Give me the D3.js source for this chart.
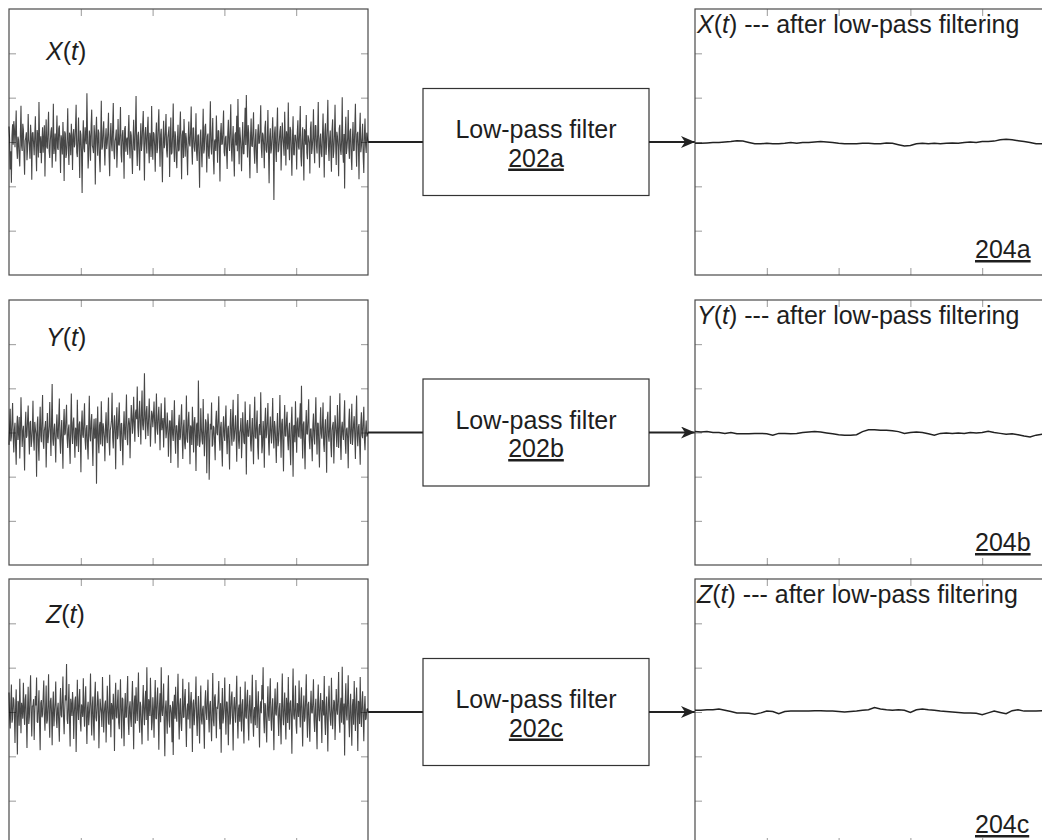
<!DOCTYPE html>
<meta charset="utf-8">
<style>
body { margin: 0; background: #fff; }
svg { display: block; font-family: "Liberation Sans", Arial, sans-serif; }
.frame { fill: none; stroke: #4a4a4a; stroke-width: 1.2; }
.tick line { stroke: #999; stroke-width: 1; }
.noise { fill: none; stroke: #000; stroke-opacity: 0.72; stroke-width: 1.1; stroke-linejoin: bevel; }
.smooth { fill: none; stroke: #222; stroke-width: 1.5; }
.box { fill: #fff; stroke: #333; stroke-width: 1.2; }
.link { stroke: #222; stroke-width: 2; }
text { fill: #1e1e1e; font-size: 25px; }
</style>
<svg width="1042" height="840"></svg>
<script src="https://cdn.jsdelivr.net/npm/d3@7"></script>
<script>

// channels, box labels, ticks
var signalNames = ["X", "Y", "Z"];
var filterLabels = ["202a", "202b", "202c"];
var outputLabels = ["204a", "204b", "204c"];
var timeTicks = [1, 2, 3, 4];
var levelTicks = [-200, -100, 0, 100, 200];

// raw accelerometer samples (100 = one tick step)
var xRaw = [
  35, 8, -62, -21, -92, 14, 40, -6, 47, 30, -12, 25, 71, -15, -38, 12, 5, -33, -55, 18, 82, -9, -20, 41, 28, -26, -74, 3, 10, 22, -41, -17, 63, 5, -7, -38, 39, 11, -85, 20,
  22, -4, -30, 16, 58, -19, -66, 27, 14, -35, 90, 9, -25, 13, -48, -2, 33, -24, 6, 38, -78, 7, 51, -11, -15, 29, 68, -20, -36, 4, 24, 33, -58, -8, 86, -27, -9, 19, -44, 6,
  60, -13, -18, 31, 37, -7, -70, 15, 3, -28, 45, 2, -88, 24, 19, -36, -27, 10, 76, -16, -52, 21, 12, -30, 41, 8, -63, 17, 29, -12, -5, 35, 84, -23, -34, 6, 55, -9, -81, 26,
  16, -22, -115, 4, 49, -14, -23, 33, 8, -5, 110, 18, -60, -29, 26, 11, -42, 37, 73, -8, -14, -25, 38, 14, -96, 20, 57, -3, -31, 28, 20, -39, -68, 9, 93, -17, -11, 23, 47, -10,
  -53, 7, 31, -16, -2, 25, 66, -31, -77, 12, 43, -4, -21, 34, 88, -19, -39, 2, 11, 28, -58, -13, 52, -6, -8, 21, 79, -27, -46, 15, 27, -8, -83, 30, 36, -22, 4, 10, -29, 19,
  61, -11, -37, 24, 15, -30, -72, 5, 50, -17, -19, 32, 104, -9, -54, 14, 23, -26, -64, 3, 42, -20, -3, 36, 70, -7, -87, 18, 34, -2, -26, 29, 57, -15, -48, 21, 9, -34, 81, -6,
  -40, 22, 18, -9, -67, 13, 44, -25, -13, 38, 74, -1, -56, 16, 30, -33, -91, 6, 48, -14, -6, 27, 63, -19, -35, 10, 21, 35, -79, -4, 55, -28, -24, 17, 87, -12, -45, 24, 13, -37,
  -59, 3, 39, -21, -17, 29, 69, -8, -84, 15, 26, -36, 52, 11, -33, 20, 7, -27, -75, 9, 46, -3, -10, 25, 80, -16, -51, 31, 32, -11, -22, 6, 65, -24, -43, 14, 17, -32, -103, 12,
  28, -18, -57, 8, 75, -26, -16, 34, 41, -5, -69, 13, 19, -31, -38, 22, 92, -10, -28, 17, 54, -37, -73, 2, 6, -20, 60, 7, -47, 26, 25, -14, -89, 19, 43, -6, -4, 30, 71, -23,
  -32, 9, 14, -24, -61, 18, 50, -3, -20, 27, 85, -12, -44, 5, 36, -29, -78, 16, 22, -8, 59, -21, 97, 10, -50, 33, 12, -15, -66, 4, 45, -26, -27, 20, 77, -7, 106, 14, -35, 38,
  20, -30, -82, 12, 53, -8, -11, 25, 67, -19, -49, 6, 29, -35, -70, 17, 40, -4, -1, 28, 83, -13, -36, 21, 16, -9, -59, 32, 48, -18, -24, 3, 72, -22, -93, 11, 31, -26, -15, 15,
  56, -7, -131, 19, 35, -14, -45, 30, 78, -23, -19, 2, 24, 36, -64, -10, 44, 13, -8, -31, 68, 8, -53, 24, 11, -17, 89, -5, -41, 34, 27, -20, -76, 9, 58, -28, -30, 16, 15, -2,
  -62, 21, 49, -11, -17, 26, 81, -33, -55, 4, 33, -18, -87, 29, 22, -6, 61, -24, -39, 15, 8, -2, -71, 31, 46, -27, -13, 10, 74, -15, -48, 37, 37, -8, -26, 19, 90, -12, -58, 7,
  19, -25, -34, 12, 64, -3, -80, 20, 42, -29, -6, 35, 95, -13, -43, 8, 26, -19, -67, 27, 51, -36, -21, 14, 84, -4, -52, 23, 13, -11, -77, 30, 39, -16, -29, 5, 101, -22, -47, 18,
  -105, 16, 57, -27, -12, 9, 72, -14, -38, 24, 30, -32, -63, 7, 45, -20, -19, 33, 86, -5, -56, 18, 23, -10, -84, 26, 66, -23, -9, 11, 41, -34, -70, 15, 53, -7, -25, 21, 10, 0
];
var yRaw = [
  -28, 11, 54, -20, -10, 27, 67, -9, -45, 6, 22, -31, -73, 14, 38, -17, 3, 35, -59, -4, 80, 19, -33, 2, 15, -26, -86, 13, 47, -12, -7, 28, 61, -6, -50, 22, 26, -33, -18, 8,
  72, -15, -41, 24, 9, -3, -100, 17, 36, -28, -64, 10, 58, -7, -22, 31, 85, -19, -37, 5, 12, 26, -79, -11, 44, -24, -5, 16, 69, -2, -53, 29, 110, -14, -30, 7, 20, -21, -68, 12,
  41, -9, -15, 30, 77, -18, -48, 4, 28, -25, -82, 19, 53, -6, -2, 33, 63, -13, -35, 8, 18, -29, -71, 15, 88, -3, -26, 22, 34, -16, -57, 11, 6, -31, 74, 2, -44, 18, 25, -10,
  -90, 20, 50, -5, -12, 27, 66, -17, -39, 9, 17, -30, -61, 13, 83, -8, -20, 25, 42, -22, -76, 6, 31, -14, -9, 32, -116, 3, 59, -19, -47, 16, 24, -27, 71, 10, -31, 21, 8, -12,
  -65, 14, 46, -7, -24, 31, 79, -20, -52, 5, 14, 28, 90, -12, -36, 18, 39, -3, -83, 24, 57, -15, -6, 35, 68, -8, -42, 20, 21, -26, -74, 9, 48, -2, -17, 30, 86, -11, -29, 16,
  33, 20, -58, 8, 62, 37, -3, 26, 81, 15, -21, 44, 52, 30, 104, 12, -10, 40, 72, 21, -27, 48, 95, 18, 5, 39, 134, 25, -15, 46, 60, 14, -8, 35, 77, 29, -32, 10, 49, 42,
  12, 38, 70, 22, -25, 31, 88, 9, -5, 36, 58, 17, -40, 27, 66, 5, 18, 33, -34, 14, 79, 24, -13, 2, 45, 19, -55, -8, 27, 26, -69, 11, 51, -4, -19, 20, 73, -12, -48, 15,
  16, -6, -80, 21, 40, -17, -11, 30, 64, -9, -60, 12, 29, -25, -38, 4, 84, -14, -23, 27, 47, -3, -72, 16, 10, -28, 58, 8, -45, 23, 35, -11, -87, 18, 22, -30, 118, 6, -33, -19,
  55, 10, -16, -27, 76, 4, -54, -13, 30, 22, -92, -5, 43, 17, -107, -24, 20, 7, 68, -32, -28, 15, 11, -20, -63, 26, 49, -1, -6, 34, 82, -16, -41, 12, 24, -35, -77, 9, 37, -8,
  -19, 25, 61, -12, -49, 8, 15, -29, -84, 19, 53, -4, -30, 30, 74, -21, -12, 13, 39, -7, -66, 22, 87, -18, -37, 1, 7, 33, -58, -15, 46, 6, -22, -26, 70, 11, -95, 17, 28, -9,
  -8, 18, 64, -23, -43, 5, 33, -16, -72, 27, 81, -10, -14, 21, 50, -33, -61, 9, 19, -6, 91, 14, -47, -28, 26, 3, -80, 24, 56, -13, -3, 30, 67, -19, -52, 7, 36, -2, -25, 20,
  78, -11, -36, 26, 13, -20, -69, 8, 44, -31, -18, 15, 85, -4, -57, 19, 31, -25, -88, 12, 62, -7, -9, 29, 47, -16, -40, 5, 22, -34, -74, 21, 58, -9, -100, 14, 17, -22, 71, 3,
  -46, 23, 34, -8, -11, 30, 66, -14, 106, 5, -59, 18, 25, -27, -83, 11, 51, -3, -4, 32, 75, -17, -38, 7, 9, -24, -65, 16, 43, -10, -27, 27, 80, -5, -50, 22, 20, -30, -79, 13,
  57, -2, -14, 20, 68, -26, -44, 9, 30, -15, -91, 31, 47, -7, -21, 14, 83, -29, -56, 4, 16, 24, -70, -12, 39, 17, -7, -33, 62, 6, -35, 19, 89, -21, -62, 10, 24, -5, -17, 28,
  73, -19, -48, 7, 11, -13, -81, 25, 54, -4, -26, 16, 65, -28, -9, 21, 37, -11, -60, 30, 84, -8, -31, 12, 19, -23, -73, 18, 46, -6, -13, 26, 58, -15, -40, 3, 27, -9, -5, 0
];
var zRaw = [
  44, -10, -37, 18, 62, -24, -15, 33, 28, -6, -70, 12, 51, -19, -96, 25, 19, -31, 75, 7, -48, 21, 8, -15, 66, 3, -29, 28, 40, -20, -81, 9, 57, -27, -11, 36, 83, -8, -55, 14,
  13, 29, -63, -4, 36, 15, 78, -22, -24, 10, 49, -30, -86, 20, 27, -12, -6, 34, 71, -9, -42, 5, 60, -26, -19, 17, 85, -14, -58, 24, 32, -2, -75, 13, 46, -32, -3, 22, 69, -18,
  -36, 8, 21, -25, -67, 16, 54, -7, -12, 31, 80, -13, -50, 4, 38, 26, 108, -16, -27, 11, 63, -21, -78, 30, 15, -9, 45, 19, -61, -3, 26, 35, -90, -14, 73, 6, -18, 27, 52, -23,
  -44, 17, 9, -11, 76, 2, -33, 24, 58, -18, -72, 9, 23, -30, -8, 21, 87, -5, -53, 14, 35, -27, -64, 33, 68, -12, -21, 7, 47, 25, -82, -20, 30, 11, -2, -34, 79, 16, -46, -3,
  18, 26, -69, -8, 59, 13, -25, -29, 84, 6, -57, 20, 11, -17, 41, 3, -88, 28, 66, -10, -14, 22, 50, -24, -39, 15, 74, -6, -60, 32, 29, -19, -77, 9, 43, -13, -10, 37, 81, -21,
  -52, 10, 24, -16, -34, 27, 70, -4, -84, 19, 37, -26, 56, 8, -20, 35, 89, -12, -47, 23, 12, -31, -73, 14, 61, -2, -30, 25, 48, -18, 101, 6, -65, 29, 20, -9, 77, 16, -41, -22,
  33, 3, -58, 21, 72, -14, -16, 30, 55, -7, -85, 12, 42, -23, 101, 5, -9, 18, 64, -28, -100, 9, 26, -11, -49, 34, 83, -19, -35, 16, 10, -4, -68, 24, -97, 11, 39, -15, 57, -6,
  -22, 28, 86, -9, -62, 15, 31, -25, -43, 7, 75, -13, -11, 32, 52, -20, -79, 4, 19, -17, 67, 11, -37, 24, 45, -8, -90, 19, 28, -30, -5, 26, 80, -14, -54, 2, 36, -21, -71, 13,
  60, -17, -28, 6, 14, -31, -83, 22, 49, -2, -18, 27, 73, -10, -46, 15, 25, -24, -66, 8, 88, -19, -32, 33, 40, -6, -59, 12, 7, 29, 70, -15, -39, 20, -92, 3, 54, -26, -13, 18,
  78, -5, -51, 23, 22, -12, -75, 9, 63, -28, -7, 34, 46, -18, -87, 11, 34, 2, -24, 30, 82, -13, -60, 7, 17, -22, 57, -9, -44, 16, 29, -26, -71, 5, 69, -11, -15, 31, 50, -20,
  -64, 14, 38, -7, -26, 25, 84, -19, -56, 4, 11, -30, 72, 17, -36, 10, 47, -21, -80, 6, 24, -3, 61, 28, 101, -16, -48, 20, 15, -33, -69, 12, 58, -8, -20, 35, 76, -14, -42, 9,
  31, -23, -86, 16, 53, -4, -8, 29, 67, -12, -54, 7, 20, -27, -73, 22, 87, -9, -30, 13, 44, -18, -62, 32, 9, -25, 79, 1, -40, 19, 26, -10, -94, 24, 98, -6, -17, 11, 60, -29,
  -49, 20, 14, -11, 71, 5, -35, 26, 56, -15, -78, 9, 37, -22, -12, 31, 85, -7, -58, 17, 23, -28, -67, 12, 48, -1, -3, 24, 74, -19, -45, 8, 30, -34, -84, 21, 62, -6, -21, 15,
  43, -13, -70, 27, 18, -8, 81, -20, -52, 11, 35, -25, -89, 18, 59, 4, -16, -31, 77, 10, -39, -2, 27, 23, -63, -14, 52, 6, -6, 33, 90, -17, -47, 13, 32, -24, 102, 7, -28, 19,
  -98, 22, 65, -5, -19, 30, 83, -16, -57, 8, 41, -21, -76, 14, 29, -29, 70, 3, -43, 18, 55, -10, -88, 25, 21, -27, 79, 2, -34, 20, 47, -12, -66, 9, 36, -18, -14, 5, 8, 0
];

// after low-pass filtering
var xSmooth = [
  -3, -3, -2, -1, -1, 0, 1, 3, 2, -1, -4, -4, -3, -4, -4, -3, -1, -3, -1, -1,
  0, 1, 0, -1, -3, -4, -4, -4, -3, -3, -4, -4, -2, -3, -6, -9, -8, -4, -3, -4,
  -3, -4, -3, -2, -3, -1, 0, -1, 1, 1, 2, 5, 6, 5, 3, 1, -1, -4, -4, -4, -4
];
var ySmooth = [
  2, 1, 2, 0, 0, -2, 0, -3, -3, -3, -2, -2, -3, -6, -2, -2, -3, -2, 0, 1,
  2, 1, -1, -3, -5, -6, -6, -5, 2, 6, 6, 5, 5, 4, 2, -2, 0, 1, 0, -3,
  -6, -2, -1, -2, -1, -2, 0, -1, 0, 3, 0, -2, -4, -3, -5, -8, -10, -6, -4, -5, -4
];
var zSmooth = [
  4, 4, 5, 5, 7, 4, 1, -2, -2, -3, -5, -2, 2, 1, -4, 1, 2, 2, 2, 2,
  3, 3, 2, 2, 1, 0, 1, 2, 4, 5, 10, 7, 5, 4, 5, 4, -1, 5, 7, 5,
  4, 2, 1, 0, -1, -2, -2, -3, -6, -2, 2, -1, -4, 3, 5, 2, 2, 2, 3, 4, 3
];

var rawSeries = [xRaw, yRaw, zRaw];
var smoothSeries = [xSmooth, ySmooth, zSmooth];

var svg = d3.select("svg");

var rowTop = [9, 300, 579],
    rowH = [266, 265, 266],
    panelW = 359,
    leftX = 9,
    rightX = 695,
    boxX = 423,
    boxW = 226,
    boxH = 107;

function panel(g, x, y) {
  g.append("g").attr("transform", "translate(0," + y.range()[1] + ")")
    .call(d3.axisTop(x).tickValues(timeTicks).tickSize(-7).tickFormat(""));
  g.append("g").attr("transform", "translate(0," + y.range()[0] + ")")
    .call(d3.axisBottom(x).tickValues(timeTicks).tickSize(-7).tickFormat(""));
  g.append("g").attr("transform", "translate(" + x.range()[0] + ",0)")
    .call(d3.axisLeft(y).tickValues(levelTicks).tickSize(-7).tickFormat(""));
  g.append("g").attr("transform", "translate(" + x.range()[1] + ",0)")
    .call(d3.axisRight(y).tickValues(levelTicks).tickSize(-7).tickFormat(""));
  g.selectAll(".domain").remove();
  g.append("rect")
    .attr("class", "frame")
    .attr("x", x.range()[0])
    .attr("y", y.range()[1])
    .attr("width", x.range()[1] - x.range()[0])
    .attr("height", y.range()[0] - y.range()[1]);
}

function trace(data, x, y) {
  return d3.line()
    .x(function(d, i) { return x(i * 5 / (data.length - 1)); })
    .y(function(d) { return y(d); })(data);
}

svg.append("defs").append("marker")
    .attr("id", "head")
    .attr("viewBox", "0 0 14 12")
    .attr("refX", 14).attr("refY", 6)
    .attr("markerWidth", 14).attr("markerHeight", 12)
    .attr("markerUnits", "userSpaceOnUse")
    .attr("orient", "auto")
  .append("path")
    .attr("d", "M0,0 L14,6 L0,12 L4,6 Z")
    .attr("fill", "#222");

var titleShift = [51, 46, 44];
var tagShift = [17, 14, 12];

signalNames.forEach(function(name, k) {
  var top = rowTop[k], h = rowH[k];
  var y = d3.scaleLinear().domain([-300, 300]).range([top + h, top]);
  var xl = d3.scaleLinear().domain([0, 5]).range([leftX, leftX + panelW]);
  var xr = d3.scaleLinear().domain([0, 5]).range([rightX, rightX + panelW]);
  var mid = y(0);

  var gl = svg.append("g");
  panel(gl, xl, y);
  gl.append("path").attr("class", "noise").attr("d", trace(rawSeries[k], xl, y));
  var t1 = gl.append("text").attr("x", 46).attr("y", top + titleShift[k]);
  t1.append("tspan").attr("font-style", "italic").text(name);
  t1.append("tspan").text("(");
  t1.append("tspan").attr("font-style", "italic").text("t");
  t1.append("tspan").text(")");

  // filter block
  var bTop = mid - boxH / 2;
  svg.append("line").attr("class", "link")
    .attr("x1", xl.range()[1]).attr("x2", boxX).attr("y1", mid).attr("y2", mid);
  svg.append("rect").attr("class", "box")
    .attr("x", boxX).attr("y", bTop).attr("width", boxW).attr("height", boxH);
  svg.append("text").attr("x", boxX + boxW / 2).attr("y", bTop + 49.5)
    .attr("text-anchor", "middle").text("Low-pass filter");
  svg.append("text").attr("x", boxX + boxW / 2).attr("y", bTop + 78)
    .attr("text-anchor", "middle").attr("text-decoration", "underline")
    .text(filterLabels[k]);
  svg.append("line").attr("class", "link")
    .attr("x1", boxX + boxW).attr("x2", rightX).attr("y1", mid).attr("y2", mid)
    .attr("marker-end", "url(#head)");

  var gr = svg.append("g");
  panel(gr, xr, y);
  gr.append("path").attr("class", "smooth").attr("d", trace(smoothSeries[k], xr, y));
  var t2 = gr.append("text").attr("x", 697).attr("y", top + 24);
  t2.append("tspan").attr("font-style", "italic").text(name);
  t2.append("tspan").text("(");
  t2.append("tspan").attr("font-style", "italic").text("t");
  t2.append("tspan").text(") --- after low-pass filtering");
  gr.append("text").attr("x", 975).attr("y", top + h - tagShift[k])
    .attr("text-decoration", "underline").text(outputLabels[k]);
});

</script>
